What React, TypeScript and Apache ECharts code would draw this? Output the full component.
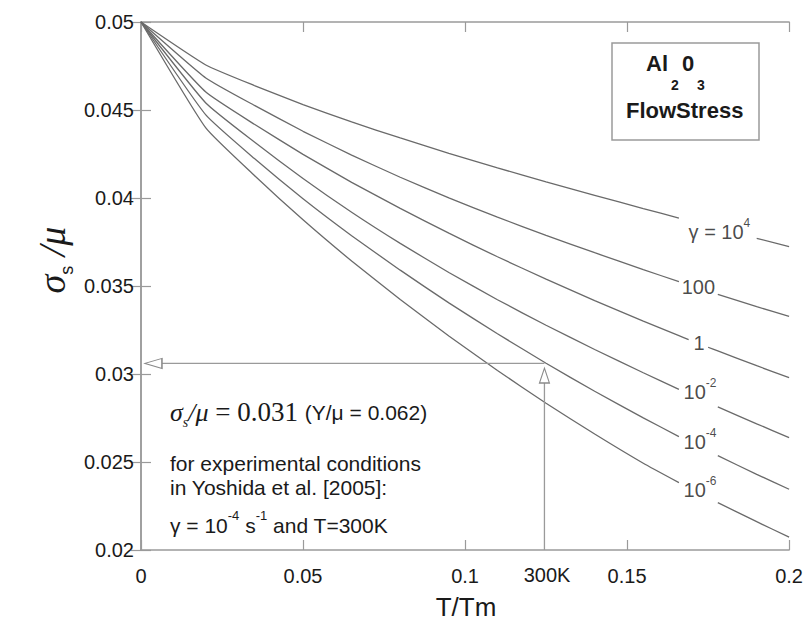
import React, { useEffect, useRef } from "react";
import * as echarts from "echarts";

// T/Tm sample positions (shared by all curves)
const tmValues = [0, 0.02, 0.035, 0.05, 0.065, 0.08, 0.095, 0.11, 0.125, 0.14, 0.155, 0.166, 0.169, 0.172, 0.175, 0.178, 0.19, 0.2];

// sigma_s / mu for each strain rate (null = gap left for the curve label)
const rate1e4 = [0.05, 0.04756, 0.04639, 0.04531, 0.04432, 0.04341, 0.04254, 0.04171, 0.04092, 0.04015, 0.0394, 0.03886, null, null, null, null, 0.03771, 0.03724];
const rate100 = [0.05, 0.04682, 0.04526, 0.04379, 0.04244, 0.04118, 0.04001, 0.03891, 0.03788, 0.03689, 0.03593, 0.03525, null, null, null, 0.03453, 0.03383, 0.03327];
const rate1 = [0.05, 0.04602, 0.04419, 0.04248, 0.04089, 0.03941, 0.038, 0.03666, 0.03539, 0.03417, 0.033, 0.03218, 0.03195, null, 0.03152, 0.03131, 0.03047, 0.02979];
const rate1em2 = [0.05, 0.0454, 0.04318, 0.04111, 0.03919, 0.03742, 0.03577, 0.03422, 0.03277, 0.03139, 0.03007, 0.02913, null, null, null, 0.02813, 0.02717, 0.02639];
const rate1em4 = [0.05, 0.04472, 0.04224, 0.03996, 0.03786, 0.0359, 0.03404, 0.03229, 0.03061, 0.02902, 0.02751, 0.02644, null, null, null, 0.02536, 0.0243, 0.02345];
const rate1em6 = [0.05, 0.04398, 0.04128, 0.03876, 0.03642, 0.03423, 0.03216, 0.0302, 0.02834, 0.02659, 0.02493, 0.02383, null, null, null, 0.02269, 0.02161, 0.02073];

const curveNames = ["γ = 1e4", "γ = 100", "γ = 1", "γ = 1e-2", "γ = 1e-4", "γ = 1e-6"];
const curves = [rate1e4, rate100, rate1, rate1em2, rate1em4, rate1em6];

// curve labels
const labelTexts = ["γ = 10{sup|4}", "100", "1", "10{sup|-2}", "10{sup|-4}", "10{sup|-6}"];
const labelTm = [0.1785, 0.172, 0.1722, 0.1725, 0.1725, 0.1725];
const labelSigma = [0.03807, 0.03494, 0.03176, 0.02898, 0.02614, 0.02341];

// 300K reading
const readTm = 0.1245;
const readSigma = 0.0306;
const hArrowEndTm = 0.00645;
const hArrowHeadTm = 0.00384;
const vArrowEndSigma = 0.02949;
const vArrowHeadSigma = 0.02991;

// axes
const xMin = 0, xMax = 0.2, xStep = 0.05;
const yMin = 0.02, yMax = 0.05, yStep = 0.005;

const SANS = "Liberation Sans, Arial, Helvetica, sans-serif";
const SERIF = "Liberation Serif, Times New Roman, serif";
const AXIS = "#9a9a9a";
const CURVE = "#6a6a6a";
const TEXT = "#1a1a1a";

export default function App() {
  const ref = useRef<HTMLDivElement>(null);
  useEffect(() => {
    const chart = echarts.init(ref.current!, null, { renderer: "svg" });
    const axisCommon = {
      axisLine: { lineStyle: { color: AXIS, width: 1.5 } },
      axisTick: { inside: true, length: 10, lineStyle: { color: AXIS, width: 1.2 } },
      splitLine: { show: false },
    };
    const series: any[] = curves.map((ys, k) => ({
      name: curveNames[k],
      type: "line",
      data: tmValues.map((x, i) => [x, ys[i] === null ? "-" : ys[i]]),
      showSymbol: false,
      symbol: "none",
      smooth: 0.15,
      connectNulls: false,
      lineStyle: { color: CURVE, width: 1.3 },
      silent: true,
      z: 3,
    }));
    series.push({
      name: "curve labels",
      type: "scatter",
      symbolSize: 0,
      silent: true,
      data: labelTm.map((x, i) => ({
        value: [x, labelSigma[i]],
        label: { formatter: labelTexts[i] },
      })),
      label: {
        show: true,
        position: "inside",
        color: TEXT,
        fontFamily: SANS,
        fontSize: 20,
        rich: {
          sup: { fontSize: 12, verticalAlign: "top", fontFamily: SANS, color: TEXT, lineHeight: 30 },
        },
      },
      z: 5,
    });
    series.push({
      name: "horizontal reading",
      type: "line",
      data: [[readTm, readSigma], [hArrowEndTm, readSigma]],
      symbol: "none",
      lineStyle: { color: AXIS, width: 1.3 },
      silent: true,
    });
    series.push({
      name: "vertical reading",
      type: "line",
      data: [[readTm, yMin], [readTm, vArrowEndSigma]],
      symbol: "none",
      lineStyle: { color: AXIS, width: 1.3 },
      silent: true,
    });
    series.push({
      name: "arrow heads",
      type: "scatter",
      silent: true,
      symbol: "path://M5,0 L10,16 L0,16 Z",
      itemStyle: { color: "#fff", borderColor: "#8a8a8a", borderWidth: 1.2, opacity: 1 },
      data: [
        { value: [hArrowHeadTm, readSigma], symbolSize: [10, 17], symbolRotate: 90 },
        { value: [readTm, vArrowHeadSigma], symbolSize: [10, 15], symbolRotate: 0 },
      ],
      z: 4,
    });

    const boxBold = (text: string, x: number, y: number, size: number) => ({
      type: "text", x, y, z: 10,
      style: { text, font: `bold ${size}px ${SANS}`, fill: TEXT, verticalAlign: "middle" },
    });

    chart.setOption({
      animation: false,
      backgroundColor: "#fff",
      grid: { left: 141, right: 14, top: 22, bottom: 75, containLabel: false },
      xAxis: [
        {
          type: "value", min: xMin, max: xMax, interval: xStep, position: "bottom",
          ...axisCommon,
          axisLabel: { margin: 16, fontSize: 20, color: TEXT, fontFamily: SANS },
        },
        {
          type: "value", min: xMin, max: xMax, interval: xStep, position: "top",
          ...axisCommon,
          axisLabel: { show: false },
        },
      ],
      yAxis: [
        {
          type: "value", min: yMin, max: yMax, interval: yStep, position: "left",
          ...axisCommon,
          axisLabel: { margin: 7, fontSize: 20, color: TEXT, fontFamily: SANS },
        },
        {
          type: "value", min: yMin, max: yMax, interval: yStep, position: "right",
          ...axisCommon,
          axisLabel: { show: false },
        },
      ],
      series,
      graphic: [
        {
          type: "text", x: 466, y: 607,
          style: { text: "T/Tm", font: `26px ${SANS}`, fill: TEXT, align: "center", verticalAlign: "middle" },
        },
        {
          type: "text", x: 52, y: 260, rotation: Math.PI / 2,
          style: {
            text: "{it|σ}{sub|s}{it| /μ}",
            align: "center", verticalAlign: "middle", fill: TEXT,
            rich: {
              it: { fontFamily: SERIF, fontStyle: "italic", fontSize: 38, fill: TEXT, lineHeight: 48 },
              sub: { fontFamily: SANS, fontSize: 18, verticalAlign: "bottom", fill: TEXT, lineHeight: 48 },
            },
          },
        },
        {
          type: "text", x: 547, y: 575,
          style: { text: "300K", font: `20px ${SANS}`, fill: TEXT, align: "center", verticalAlign: "middle" },
        },
        {
          type: "rect", shape: { x: 612, y: 43, width: 147, height: 97 }, z: 9,
          style: { fill: "#fff", stroke: AXIS, lineWidth: 1.5 },
        },
        boxBold("Al", 646, 63, 22),
        boxBold("2", 671, 85, 14),
        boxBold("0", 682, 63, 22),
        boxBold("3", 697, 85, 14),
        boxBold("FlowStress", 626, 110, 22),
        {
          type: "text", x: 170, y: 412,
          style: {
            text: "{it|σ}{sub|s}{it|/μ}{tm| = 0.031 }{sf|(Y/μ = 0.062)}",
            verticalAlign: "middle",
            rich: {
              it: { fontFamily: SERIF, fontStyle: "italic", fontSize: 26, fill: TEXT, lineHeight: 34 },
              sub: { fontFamily: SERIF, fontStyle: "italic", fontSize: 14, verticalAlign: "bottom", fill: TEXT, lineHeight: 34 },
              tm: { fontFamily: SERIF, fontSize: 27, fill: TEXT, lineHeight: 34 },
              sf: { fontFamily: SANS, fontSize: 21, fill: TEXT, lineHeight: 34 },
            },
          },
        },
        {
          type: "text", x: 170, y: 463,
          style: { text: "for experimental conditions", font: `21px ${SANS}`, fill: TEXT, verticalAlign: "middle" },
        },
        {
          type: "text", x: 170, y: 487,
          style: { text: "in Yoshida et al. [2005]:", font: `21px ${SANS}`, fill: TEXT, verticalAlign: "middle" },
        },
        {
          type: "text", x: 170, y: 525,
          style: {
            text: "{n|γ = 10}{sup|-4}{n| s}{sup|-1}{n| and T=300K}",
            verticalAlign: "middle",
            rich: {
              n: { fontFamily: SANS, fontSize: 21, fill: TEXT, lineHeight: 32 },
              sup: { fontFamily: SANS, fontSize: 13, verticalAlign: "top", fill: TEXT, lineHeight: 32 },
            },
          },
        },
      ],
    });
    return () => chart.dispose();
  }, []);
  return (
    <div
      ref={ref}
      style={{ position: "fixed", left: 0, top: 0, width: 806, height: 625, background: "#fff" }}
    />
  );
}
